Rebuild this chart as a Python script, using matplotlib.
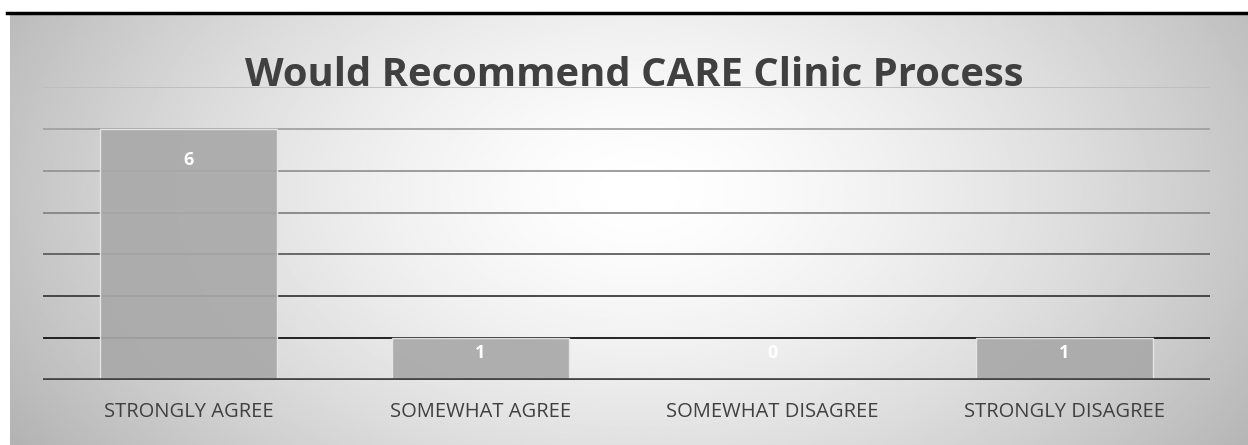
import numpy as np
import matplotlib.pyplot as plt
from matplotlib.lines import Line2D

# 数据
categories = ['STRONGLY AGREE', 'SOMEWHAT AGREE', 'SOMEWHAT DISAGREE', 'STRONGLY DISAGREE']
counts = [6, 1, 0, 1]
grid_levels = [1, 2, 3, 4, 5, 6, 7]
grid_colors = ['#141414', '#3c3c3c', '#5e5e5e', '#858585', '#959595', '#a2a2a2', '#bdbdbd']
title = 'Would Recommend CARE Clinic Process'

W, H = 1248, 445
fig = plt.figure(figsize=(W / 100, H / 100), dpi=100)
fig.patch.set_facecolor('white')

# 背景: 径向渐变
bg = fig.add_axes([10 / W, 0, (W - 10) / W, (H - 14) / H])
bg.set_axis_off()
ny, nx = 300, 800
yy, xx = np.mgrid[0:ny, 0:nx]
px = 10 + xx / nx * (W - 10)
py = 14 + yy / ny * (H - 14)
r = np.sqrt(((px - 640) / 660) ** 2 + ((py - 190) / 420) ** 2)
gray = 1 - 0.25 * np.clip(r, 0, 1.2) ** 1.5
bg.imshow(gray, cmap='gray', vmin=0, vmax=1, aspect='auto', interpolation='bilinear')

# 顶部黑线
fig.add_artist(Line2D([7 / W, 1], [1 - 12.5 / H] * 2, color='black', lw=2.5, transform=fig.transFigure))

ax = fig.add_axes([43 / W, 65 / H, (1210 - 43) / W, (380 - 87) / H])
ax.patch.set_alpha(0)
for s in ax.spines.values():
    s.set_visible(False)

for lvl, c in zip(grid_levels, grid_colors):
    ax.axhline(lvl, color=c, lw=1.3, zorder=1)
ax.axhline(0, color='#444444', lw=3.4, zorder=4)

x = np.arange(len(categories))
bars = ax.bar(x, counts, width=0.607, color='#a9a9a9', alpha=0.92, edgecolor='#e8e8e8', lw=1, zorder=2)
for xi, v in zip(x, counts):
    # 标签放在柱内顶端; 矮柱子(含0)放在第一格内
    ty = v - 0.74 if v > 1 else 0.65
    ax.text(xi, ty, str(v), ha='center', va='center', color='white',
            fontsize=13, fontweight='bold', family='Open Sans', zorder=5)

ax.set_xlim(-0.5, 3.5)
ax.set_ylim(0, 7)
ax.set_yticks([])
ax.set_xticks(x)
ax.set_xticklabels(categories, fontsize=14.5, color='#404040', family='Open Sans')
ax.tick_params(axis='x', length=0, pad=16)

fig.text(634 / W, 1 - 75 / H, title, ha='center', va='center', fontsize=28.8,
         fontweight='bold', color='#404040', family='Open Sans')

fig.savefig('out.png', dpi=100, facecolor=fig.get_facecolor())
